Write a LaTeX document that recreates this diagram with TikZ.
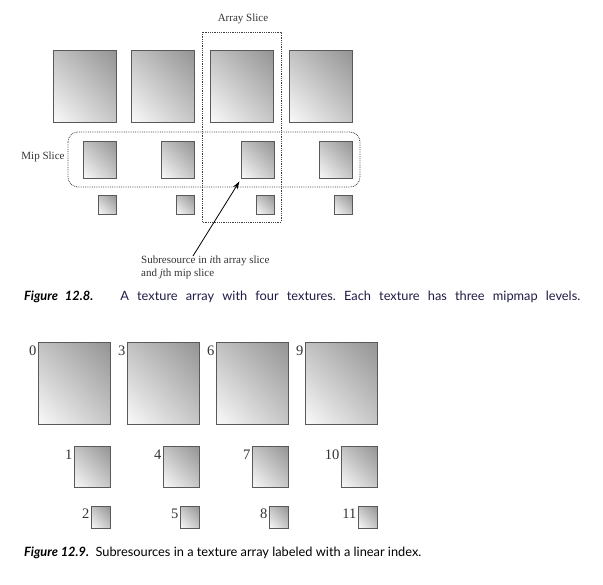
\documentclass[tikz,border=0pt]{standalone}
\usepackage{fontspec}
\setmainfont{Liberation Serif}
\newfontfamily\capfont{Lato}
\usetikzlibrary{calc,arrows.meta,shadings}
\definecolor{capnavy}{RGB}{30,28,70}
\begin{document}
\begin{tikzpicture}[x=1pt,y=-1pt,
  tex/.style={draw=black!65, line width=0.9pt, inner sep=0pt, anchor=north west,
    upper right=black!42, lower left=black!2, upper left=black!24, lower right=black!22},
  big/.style={tex, minimum width=63pt, minimum height=72pt},
  mid/.style={tex, minimum width=33pt, minimum height=37pt},
  sml/.style={tex, minimum width=18pt, minimum height=19pt},
  bigb/.style={tex, minimum width=72pt, minimum height=82pt},
  midb/.style={tex, minimum width=36pt, minimum height=41pt},
  smlb/.style={tex, minimum width=19pt, minimum height=22pt},
  lab/.style={font=\fontsize{11}{13}\selectfont, text=black!80},
  idx/.style={font=\fontsize{14.5}{16}\selectfont, text=black!80, inner sep=0pt, anchor=north east},
  slice/.style={draw=black!75, densely dotted, line width=0.8pt},
  captext/.style={font=\capfont\fontsize{12.8}{15}\selectfont, anchor=west, inner sep=0pt}]
\useasboundingbox (0,0) rectangle (603,585);
% Figure 12.8
\node[big] (b1) at (53,50) {};
\node[big] (b2) at (131,50) {};
\node[big] (b3) at (210,50) {};
\node[big] (b4) at (289,50) {};
\node[mid] (m1) at (83,141) {};
\node[mid] (m2) at (161,141) {};
\node[mid] (m3) at (241,141) {};
\node[mid] (m4) at (319,141) {};
\node[sml] (s1) at (98,195) {};
\node[sml] (s2) at (176,195) {};
\node[sml] (s3) at (256,195) {};
\node[sml] (s4) at (334,195) {};
\draw[slice] (202,32) rectangle (281,222);
\node[lab] (as) at (243,19) {Array Slice};
\draw[slice, rounded corners=10pt] (68,132) rectangle (360,187);
\node[lab] (ms) at (43,157) {Mip Slice};
\node[lab, anchor=north west, align=left, inner sep=0pt] (sub) at (141,256)
  {Subresource in \textit{i}th array slice\\and \textit{j}th mip slice};
\coordinate (subtop) at ($(sub.north west)+(52,0)$);
\draw[-{Stealth[length=8pt,width=5pt]}, line width=0.8pt, shorten >=3pt] (subtop) -- (m3.south west);
\node[captext] (c1) at (24,297) {\makebox[556pt][s]{\frenchspacing\textbf{\textit{Figure 12.8.}}\hspace{27pt}\color{capnavy}A texture array with four textures. Each texture has three mipmap levels.}};
% Figure 12.9
\node[bigb] (B1) at (38,342) {};
\node[bigb] (B2) at (127,342) {};
\node[bigb] (B3) at (216,342) {};
\node[bigb] (B4) at (305,342) {};
\node[midb] (M1) at (74,446) {};
\node[midb] (M2) at (163,446) {};
\node[midb] (M3) at (252,446) {};
\node[midb] (M4) at (341,446) {};
\node[smlb] (S1) at (91,506) {};
\node[smlb] (S2) at (180,506) {};
\node[smlb] (S3) at (269,506) {};
\node[smlb] (S4) at (358,506) {};
\node[idx] (l0) at ($(B1.north west)+(-1.5,4)$) {0};
\node[idx] (l3) at ($(B2.north west)+(-1.5,4)$) {3};
\node[idx] (l6) at ($(B3.north west)+(-1.5,4)$) {6};
\node[idx] (l9) at ($(B4.north west)+(-1.5,4)$) {9};
\node[idx] (l1) at ($(M1.north west)+(-1.5,4)$) {1};
\node[idx] (l4) at ($(M2.north west)+(-1.5,4)$) {4};
\node[idx] (l7) at ($(M3.north west)+(-1.5,4)$) {7};
\node[idx] (l10) at ($(M4.north west)+(-1.5,4)$) {10};
\node[idx] (l2) at ($(S1.north west)+(-1.5,3)$) {2};
\node[idx] (l5) at ($(S2.north west)+(-1.5,3)$) {5};
\node[idx] (l8) at ($(S3.north west)+(-1.5,3)$) {8};
\node[idx] (l11) at ($(S4.north west)+(-1.5,3)$) {11};
\node[captext] (c2) at (24,553) {\textbf{\textit{Figure 12.9.}}\enspace Subresources in a texture array labeled with a linear index.};
\end{tikzpicture}
\end{document}
